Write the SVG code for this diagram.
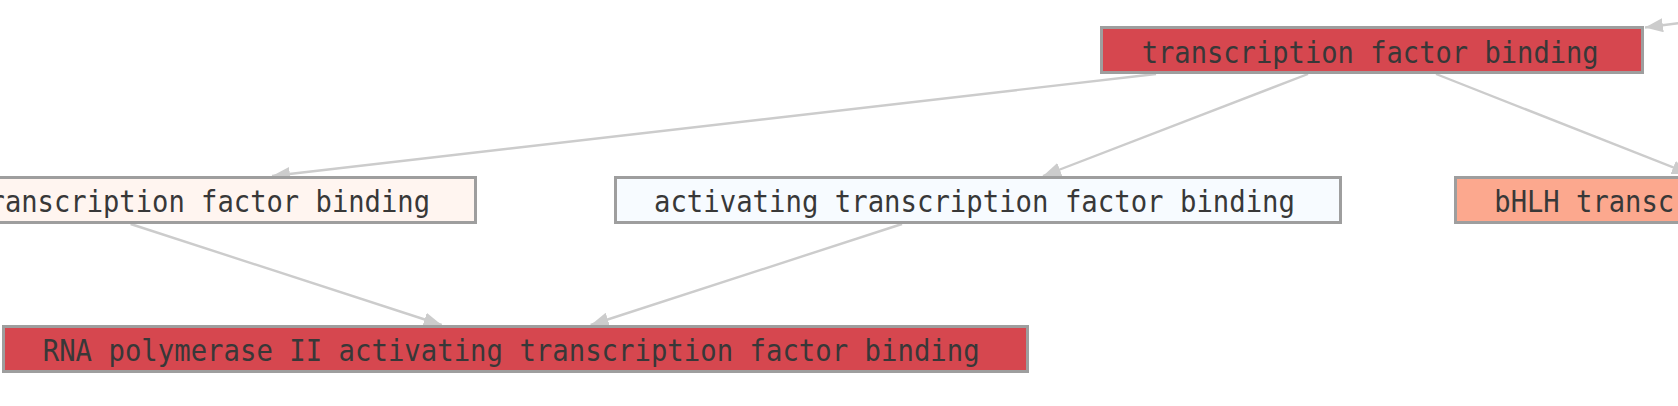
<svg xmlns="http://www.w3.org/2000/svg" width="1678" height="406" viewBox="0 0 1678 406">
<style>
.box{stroke:#9e9e9e;stroke-width:3}
.lbl{font-family:"DejaVu Sans Mono","Liberation Mono",monospace;font-size:31px;fill:#383838}
.edge{stroke:#cccccc;stroke-width:2.4;fill:none;marker-end:url(#arr)}
</style>
<defs>
<marker id="arr" viewBox="0 0 18 14" markerWidth="18" markerHeight="14" refX="18" refY="7" markerUnits="userSpaceOnUse" orient="auto">
<path d="M0,0 L18,7 L0,14 z" fill="#cccccc"/>
</marker>
</defs>
<rect width="1678" height="406" fill="#ffffff"/>
<g id="edges">
<line class="edge" x1="1680" y1="23" x2="1645" y2="27.5"/>
<line class="edge" x1="1156" y1="74" x2="272" y2="176"/>
<line class="edge" x1="1308" y1="74" x2="1043" y2="176"/>
<line class="edge" x1="1436" y1="74" x2="1690" y2="174"/>
<line class="edge" x1="130.6" y1="224" x2="441.7" y2="325"/>
<line class="edge" x1="902" y1="224" x2="590.7" y2="325"/>
</g>
<g id="n-tfb">
<rect class="box" x="1101.5" y="27.5" width="541" height="45" fill="#d6474f"/>
<text class="lbl" x="1141.7" y="62.5" textLength="457" lengthAdjust="spacingAndGlyphs">transcription factor binding</text>
</g>
<g id="n-left">
<rect class="box" x="-10" y="177.5" width="485.5" height="45" fill="#fff5f0"/>
<text class="lbl" x="-27.8" y="211.7" textLength="457.8" lengthAdjust="spacingAndGlyphs">transcription factor binding</text>
</g>
<g id="n-activating">
<rect class="box" x="615.5" y="177.5" width="725" height="45" fill="#f7fbff"/>
<text class="lbl" x="654" y="211.7" textLength="641" lengthAdjust="spacingAndGlyphs">activating transcription factor binding</text>
</g>
<g id="n-bhlh">
<rect class="box" x="1455.5" y="177.5" width="620" height="45" fill="#fca88e"/>
<text class="lbl" x="1494.3" y="211.7" textLength="539.6" lengthAdjust="spacingAndGlyphs">bHLH transcription factor binding</text>
</g>
<g id="n-rnapol">
<rect class="box" x="3.5" y="326.5" width="1024" height="45" fill="#d6474f"/>
<text class="lbl" x="42.7" y="361" textLength="937" lengthAdjust="spacingAndGlyphs">RNA polymerase II activating transcription factor binding</text>
</g>
</svg>
